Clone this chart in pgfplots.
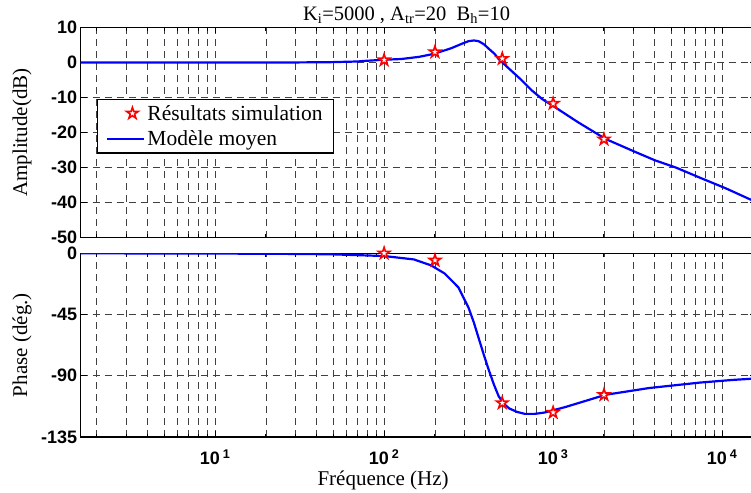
\documentclass[border=0pt]{standalone}
\usepackage{fontspec}
\setmainfont{Liberation Serif}
\newfontfamily\ticksf{Liberation Sans}
\usepackage{pgfplots}
\pgfplotsset{compat=1.18}

\pgfdeclareplotmark{pentagram}{%
  \pgfpathmoveto{\pgfpointpolar{90}{\pgfplotmarksize}}%
  \pgfpathlineto{\pgfpointpolar{126}{0.382\pgfplotmarksize}}%
  \pgfpathlineto{\pgfpointpolar{162}{\pgfplotmarksize}}%
  \pgfpathlineto{\pgfpointpolar{198}{0.382\pgfplotmarksize}}%
  \pgfpathlineto{\pgfpointpolar{234}{\pgfplotmarksize}}%
  \pgfpathlineto{\pgfpointpolar{270}{0.382\pgfplotmarksize}}%
  \pgfpathlineto{\pgfpointpolar{306}{\pgfplotmarksize}}%
  \pgfpathlineto{\pgfpointpolar{342}{0.382\pgfplotmarksize}}%
  \pgfpathlineto{\pgfpointpolar{18}{\pgfplotmarksize}}%
  \pgfpathlineto{\pgfpointpolar{54}{0.382\pgfplotmarksize}}%
  \pgfpathclose
  \pgfusepathqfillstroke
}

\pgfplotsset{
  leglinesty/.style={legend image code/.code={\draw[##1] (0pt,0pt) -- (37pt,0pt);}},
  legmarksty/.style={legend image code/.code={\draw[##1] plot coordinates {(25pt,0pt)};}},
}

\begin{document}
\begin{tikzpicture}
\begin{semilogxaxis}[
  scale only axis, width=675pt,
  xmin=1.603, xmax=15800,
  xtick={10,100,1000,10000},
  minor xtick={2,3,4,5,6,7,8,9,20,30,40,50,60,70,80,90,200,300,400,500,600,700,800,900,2000,3000,4000,5000,6000,7000,8000,9000},
  xmajorgrids, xminorgrids, ymajorgrids,
  major grid style={black!75, line width=0.9pt, dash pattern=on 7pt off 5pt},
  minor grid style={black!75, line width=0.9pt, dash pattern=on 7pt off 5pt},
  tick align=inside,
  major tick length=6pt, minor tick length=3.5pt,
  every tick/.style={black, line width=1pt},
  axis line style={line width=1.4pt},
  tick label style={font=\ticksf\bfseries\fontsize{18}{20}\selectfont},
  every axis y label/.style={at={(rel axis cs:0,0.5)}, xshift=-58.7pt, rotate=90, anchor=center, font=\rmfamily\mdseries\fontsize{21}{24}\selectfont},
  at={(80.7pt,-27.5pt)}, anchor=north west,
  height=210.2pt,
  ymin=-50, ymax=10,
  ytick={-50,-40,-30,-20,-10,0,10},
  yticklabels={-50,-40,-30,-20,-10,0,10},
  xticklabels={},
  ylabel={Amplitude(dB)},
  every axis title/.style={at={(rel axis cs:0.4827,1)}, anchor=base, yshift=6.8pt, font=\rmfamily\mdseries\fontsize{20.5}{24}\selectfont},
  title={K\textsubscript{i}=5000 , A\textsubscript{tr}=20\ \ B\textsubscript{h}=10},
  legend cell align=left,
  reverse legend,
  legend style={at={(rel axis cs:0.0237,0.662)}, anchor=north west,
    font=\rmfamily\mdseries\fontsize{21.5}{25}\selectfont, draw=black, line width=1.2pt,
    fill=white, inner xsep=9pt, inner ysep=4pt, row sep=5pt,
    /tikz/every even column/.append style={column sep=14pt}},
]
\addplot[blue, line width=2.2pt, leglinesty]
coordinates {
(1.603,0) (10,0) (30,0.03) (48,0.1) (70,0.3) (76,0.45) (100,0.8) (126,1.0)
(160,1.6) (198,2.5) (250,4.1) (290,5.4) (316,6.1) (340,6.3) (362,6.1)
(390,5.2) (417,3.9) (450,2.5) (476,1.0) (550,-1.8) (650,-5) (750,-8)
(860,-10.4) (1030,-12.8) (1400,-17) (2040,-21.8) (3090,-25.6) (4000,-27.9)
(5340,-30) (7500,-33) (10500,-35.9) (14700,-39.1) (15800,-39.7)
};
\addlegendentry{Modèle moyen}
\addplot[only marks, mark=pentagram, mark size=6pt, draw=red, fill=white, line width=1.6pt, legmarksty]
coordinates {(100,0.7) (200,3.0) (500,1.1) (1000,-11.7) (2000,-21.9)};
\addlegendentry{Résultats simulation\hspace{8pt}}
\end{semilogxaxis}

\begin{semilogxaxis}[
  scale only axis, width=675pt,
  xmin=1.603, xmax=15800,
  xtick={10,100,1000,10000},
  minor xtick={2,3,4,5,6,7,8,9,20,30,40,50,60,70,80,90,200,300,400,500,600,700,800,900,2000,3000,4000,5000,6000,7000,8000,9000},
  xmajorgrids, xminorgrids, ymajorgrids,
  major grid style={black!75, line width=0.9pt, dash pattern=on 7pt off 5pt},
  minor grid style={black!75, line width=0.9pt, dash pattern=on 7pt off 5pt},
  tick align=inside,
  major tick length=6pt, minor tick length=3.5pt,
  every tick/.style={black, line width=1pt},
  axis line style={line width=1.4pt},
  tick label style={font=\ticksf\bfseries\fontsize{18}{20}\selectfont},
  xticklabel style={yshift=-9pt},
  every axis y label/.style={at={(rel axis cs:0,0.5)}, xshift=-58.7pt, rotate=90, anchor=center, font=\rmfamily\mdseries\fontsize{21}{24}\selectfont},
  at={(80.7pt,-253.3pt)}, anchor=north west,
  height=183.7pt,
  ymin=-135, ymax=0,
  ytick={-135,-90,-45,0},
  yticklabels={-135,-90,-45,0},
  xticklabels={10\,\textsuperscript{1},10\,\textsuperscript{2},10\,\textsuperscript{3},10\,\textsuperscript{4}},
  ylabel={Phase (dég.)},
  every axis x label/.style={at={(rel axis cs:0.448,0)}, anchor=base, yshift=-48pt, font=\rmfamily\mdseries\fontsize{21}{24}\selectfont},
  xlabel={Fréquence (Hz)},
]
\addplot[blue, line width=2.2pt] coordinates {
(1.603,0) (20,-0.3) (48,-0.7) (100,-2) (150,-4.5) (190,-8.9) (228,-14.8)
(275,-25) (316,-40) (340,-51) (362,-62) (390,-75) (417,-86) (445,-96)
(476,-105) (510,-110.5) (550,-114) (610,-116.5) (680,-118) (780,-118)
(890,-117) (1180,-113) (2040,-104) (3700,-99) (7400,-95) (11700,-93) (15800,-92)
};
\addplot[only marks, mark=pentagram, mark size=6pt, draw=red, fill=white, line width=1.6pt]
coordinates {(100,0) (200,-5.2) (500,-110) (1000,-117) (2000,-104)};
\end{semilogxaxis}
\pgfresetboundingbox
\path[use as bounding box] (0pt,0pt) rectangle (751pt,-492pt);
\end{tikzpicture}
\end{document}
